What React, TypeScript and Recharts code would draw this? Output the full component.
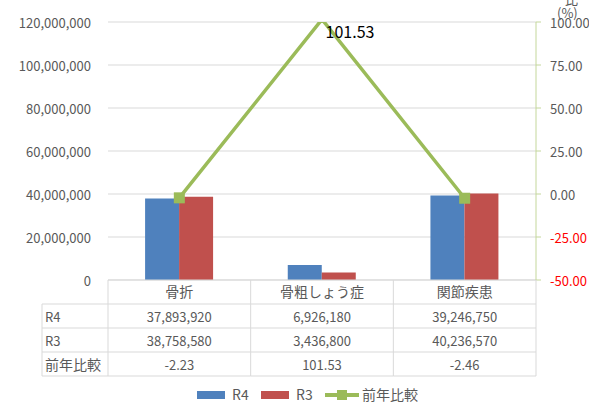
import React from 'react';
import { ComposedChart, Bar, Line, XAxis, YAxis, CartesianGrid, LabelList } from 'recharts';

const categories = ['骨折', '骨粗しょう症', '関節疾患'];
const r4Values = [37893920, 6926180, 39246750];
const r3Values = [38758580, 3436800, 40236570];
const ratioValues = [-2.23, 101.53, -2.46];
const ratioLabelShown = [false, true, false];
const leftTicks = [0, 20000000, 40000000, 60000000, 80000000, 100000000, 120000000];
const rightTicks = [-50, -25, 0, 25, 50, 75, 100];
const seriesNames = ['R4', 'R3', '前年比較'];
const rightAxisTitle = ['比', '(%)'];

const data = categories.map((c, i) => ({
  name: c,
  r4: r4Values[i],
  r3: r3Values[i],
  ratio: ratioValues[i],
  showLabel: ratioLabelShown[i],
}));

const W = 589;
const H = 403;
const PLOT_LEFT = 108;
const PLOT_RIGHT = 536;
const PLOT_TOP = 22;
const TABLE_TOP = 280;
const ROW_H = 24;
const TABLE_LEFT = 42;
const TABLE_BOTTOM = TABLE_TOP + ROW_H * 4;
const HALF_BAND = (PLOT_RIGHT - PLOT_LEFT) / categories.length / 2;

const FONT = '"Noto Sans CJK JP", "Noto Sans", sans-serif';
const TEXT = '#595959';
const GRID = '#D9D9D9';
const BLUE = '#4F81BD';
const RED = '#C0504D';
const GREEN = '#9BBB59';
const AXIS_GREEN = '#C4D79B';

const fmtInt = (v: number) => v.toLocaleString('en-US');
const fmtPct = (v: number) => v.toFixed(2);

const TableTick = (props: any) => {
  const { x, payload } = props;
  const i = payload.index;
  const left = x - HALF_BAND;
  const right = x + HALF_BAND;
  const rowMid = (r: number) => TABLE_TOP + ROW_H * r + ROW_H / 2;
  const rowValues = [fmtInt(r4Values[i]), fmtInt(r3Values[i]), fmtPct(ratioValues[i])];
  return (
    <g>
      <text x={x} y={rowMid(0) - 1} textAnchor="middle" dominantBaseline="central" fontSize={14} fill={TEXT} fontFamily={FONT}>
        {categories[i]}
      </text>
      {rowValues.map((v, r) => (
        <text key={r} x={x} y={rowMid(r + 1)} textAnchor="middle" dominantBaseline="central" fontSize={13} fill={TEXT} fontFamily={FONT}>
          {v}
        </text>
      ))}
      <line x1={right} x2={right} y1={TABLE_TOP} y2={TABLE_BOTTOM} stroke={GRID} />
      {[1, 2, 3, 4].map((r) => (
        <line key={r} x1={left} x2={right} y1={TABLE_TOP + ROW_H * r} y2={TABLE_TOP + ROW_H * r} stroke={GRID} />
      ))}
      {i === 0 && (
        <g>
          <line x1={left} x2={left} y1={TABLE_TOP} y2={TABLE_BOTTOM} stroke={GRID} />
          <line x1={TABLE_LEFT} x2={TABLE_LEFT} y1={TABLE_TOP + ROW_H} y2={TABLE_BOTTOM} stroke={GRID} />
          {[1, 2, 3, 4].map((r) => (
            <line key={r} x1={TABLE_LEFT} x2={left} y1={TABLE_TOP + ROW_H * r} y2={TABLE_TOP + ROW_H * r} stroke={GRID} />
          ))}
          {seriesNames.map((n, r) => (
            <text key={n} x={TABLE_LEFT + 3} y={rowMid(r + 1)} dominantBaseline="central" fontSize={r === 2 ? 14 : 13} fill={TEXT} fontFamily={FONT}>
              {n}
            </text>
          ))}
        </g>
      )}
    </g>
  );
};

const RightTick = (props: any) => {
  const { x, y, payload } = props;
  const v = payload.value;
  return (
    <text x={x} y={y} textAnchor="start" dominantBaseline="central" fontSize={13} fill={v < 0 ? '#FF0000' : TEXT} fontFamily={FONT}>
      {fmtPct(v)}
    </text>
  );
};

const LeftTick = (props: any) => {
  const { x, y, payload } = props;
  return (
    <text x={x} y={y} textAnchor="end" dominantBaseline="central" fontSize={13} fill={TEXT} fontFamily={FONT}>
      {fmtInt(payload.value)}
    </text>
  );
};

const SquareDot = (props: any) => {
  const { cx, cy, payload } = props;
  if (cx == null || cy == null) return null;
  if (payload.ratio > rightTicks[rightTicks.length - 1]) return <g />;
  return <rect x={cx - 5.5} y={cy - 5.5} width={11} height={11} fill={GREEN} />;
};

const PeakLabel = (props: any) => {
  const { x, y, value, index } = props;
  if (!data[index] || !data[index].showLabel) return null;
  return (
    <text x={x + 28} y={y + 12} textAnchor="middle" dominantBaseline="central" fontSize={16} fill="#000" fontFamily={FONT}>
      {fmtPct(value)}
    </text>
  );
};

export default function App() {
  return (
    <div style={{ position: 'absolute', left: 0, top: 0, width: W, height: H, background: '#fff', fontFamily: FONT }}>
      <ComposedChart
        width={W}
        height={H}
        data={data}
        margin={{ top: PLOT_TOP, right: 0, left: 0, bottom: H - TABLE_BOTTOM }}
        barCategoryGap="26%"
        barGap={0}
      >
        <CartesianGrid horizontal vertical={false} stroke={GRID} yAxisId="left" />
        <XAxis
          dataKey="name"
          xAxisId={0}
          height={TABLE_BOTTOM - TABLE_TOP}
          axisLine={{ stroke: GRID }}
          tickLine={false}
          interval={0}
          tick={<TableTick />}
        />
        <YAxis
          yAxisId="left"
          orientation="left"
          width={PLOT_LEFT}
          domain={[0, 120000000]}
          ticks={leftTicks}
          axisLine={false}
          tickLine={false}
          tickSize={0}
          tickMargin={17}
          tick={<LeftTick />}
          interval={0}
        />
        <YAxis
          yAxisId="right"
          orientation="right"
          width={W - PLOT_RIGHT}
          domain={[-50, 100]}
          allowDataOverflow
          ticks={rightTicks}
          axisLine={{ stroke: AXIS_GREEN }}
          tickLine={{ stroke: AXIS_GREEN }}
          tickSize={5}
          tickMargin={9}
          tick={<RightTick />}
          interval={0}
        />
        <Bar dataKey="r4" name={seriesNames[0]} yAxisId="left" fill={BLUE} isAnimationActive={false} />
        <Bar dataKey="r3" name={seriesNames[1]} yAxisId="left" fill={RED} isAnimationActive={false} />
        <Line
          dataKey="ratio"
          name={seriesNames[2]}
          yAxisId="right"
          stroke={GREEN}
          strokeWidth={3.5}
          dot={<SquareDot />}
          activeDot={false}
          isAnimationActive={false}
        >
          <LabelList dataKey="ratio" content={<PeakLabel />} />
        </Line>
      </ComposedChart>
      <div style={{ position: 'absolute', left: 565, top: -8, fontSize: 13, color: TEXT, lineHeight: '14px' }}>{rightAxisTitle[0]}</div>
      <div style={{ position: 'absolute', left: 557, top: 6, fontSize: 13, color: TEXT, lineHeight: '14px' }}>{rightAxisTitle[1]}</div>
      <div style={{ position: 'absolute', left: 197, top: 387, height: 14, fontSize: 14, color: TEXT, lineHeight: '14px' }}>
        <span style={{ position: 'absolute', left: 0, top: 4, width: 28, height: 8, background: BLUE }} />
        <span style={{ position: 'absolute', left: 35, top: 0, whiteSpace: 'nowrap' }}>{seriesNames[0]}</span>
        <span style={{ position: 'absolute', left: 64, top: 4, width: 28, height: 8, background: RED }} />
        <span style={{ position: 'absolute', left: 99, top: 0, whiteSpace: 'nowrap' }}>{seriesNames[1]}</span>
        <span style={{ position: 'absolute', left: 128, top: 6, width: 34, height: 3.5, background: GREEN }} />
        <span style={{ position: 'absolute', left: 140, top: 3, width: 10, height: 10, background: GREEN }} />
        <span style={{ position: 'absolute', left: 165, top: 0, whiteSpace: 'nowrap' }}>{seriesNames[2]}</span>
      </div>
    </div>
  );
}
